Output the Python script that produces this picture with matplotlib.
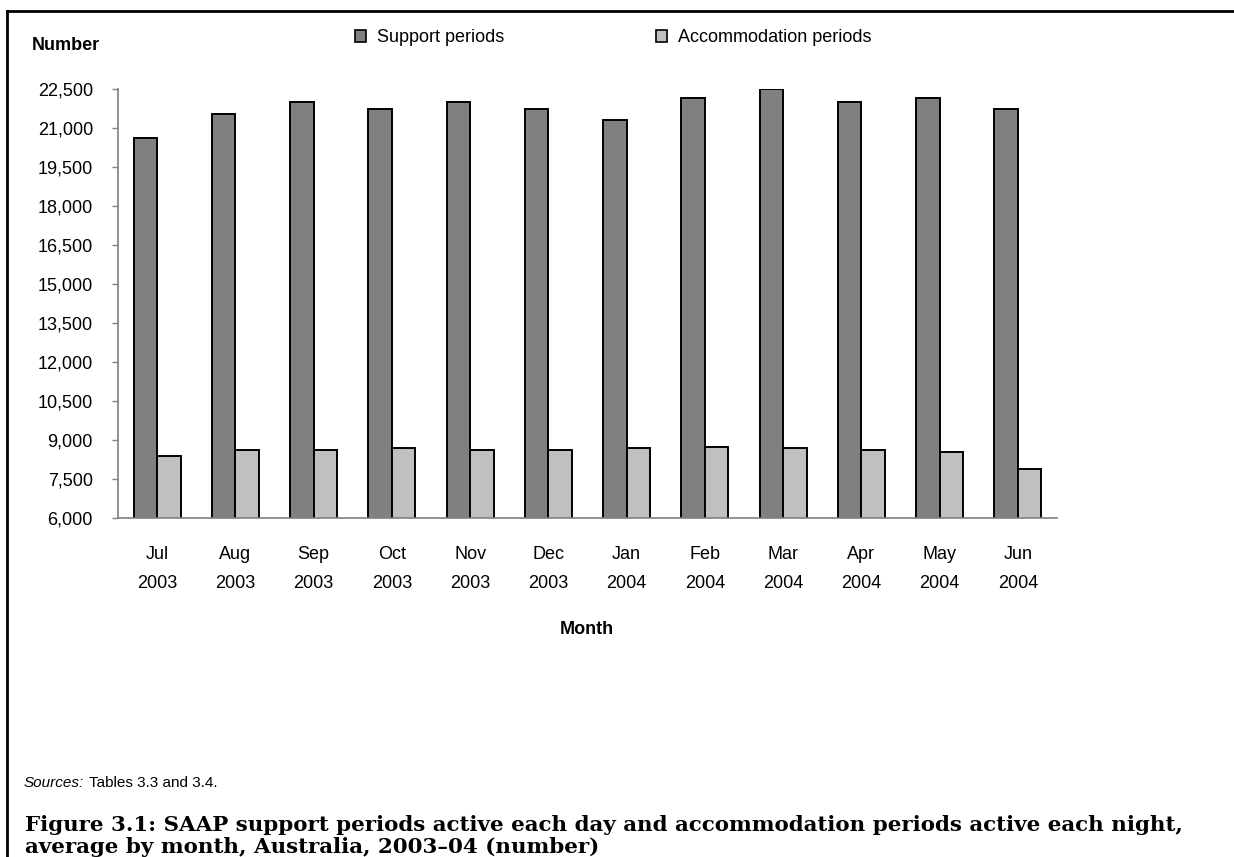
import matplotlib
matplotlib.use("Agg")
import matplotlib.pyplot as plt
from matplotlib.lines import Line2D
from matplotlib.patches import Patch
import numpy as np

# data
months = ["Jul\n2003", "Aug\n2003", "Sep\n2003", "Oct\n2003", "Nov\n2003", "Dec\n2003",
          "Jan\n2004", "Feb\n2004", "Mar\n2004", "Apr\n2004", "May\n2004", "Jun\n2004"]
support = [20600, 21520, 22000, 21750, 22000, 21750, 21300, 22150, 22500, 22000, 22150, 21750]
accommodation = [8370, 8600, 8600, 8680, 8600, 8600, 8680, 8750, 8680, 8600, 8520, 7900]

W, H = 1234, 857
plt.rcParams['font.family'] = ['Liberation Sans', 'DejaVu Sans']

fig = plt.figure(figsize=(W / 100, H / 100), dpi=100)
ax = fig.add_axes([118 / W, 1 - 518 / H, (1057 - 118) / W, (518 - 89) / H])

x = np.arange(len(months))
width = 0.3
ax.bar(x - width / 2, support, width, color='#808080', edgecolor='black',
       linewidth=1.4, label='Support periods')
ax.bar(x + width / 2, accommodation, width, color='#c0c0c0', edgecolor='black',
       linewidth=1.4, label='Accommodation periods')

ax.set_ylim(6000, 22500)
ax.set_xlim(-0.5, len(months) - 0.5)
yt = np.arange(6000, 22501, 1500)
ax.set_yticks(yt)
ax.set_yticklabels([f"{v:,}" for v in yt], fontsize=13)
ax.set_xticks(x)
ax.set_xticklabels(months, fontsize=13)
for lab in ax.get_xticklabels():
    lab.set_linespacing(1.95)
ax.tick_params(axis='x', length=0, pad=20)
ax.tick_params(axis='y', length=4, width=1, color='#808080', pad=14)

for s in ['top', 'right']:
    ax.spines[s].set_visible(False)
for s in ['left', 'bottom']:
    ax.spines[s].set_color('#808080')
    ax.spines[s].set_linewidth(1.2)

# legend across the top
handles = [Patch(facecolor='#808080', edgecolor='black', linewidth=1.2),
           Patch(facecolor='#c0c0c0', edgecolor='black', linewidth=1.2)]
fig.legend(handles, ['Support periods', 'Accommodation periods'], ncol=2,
           loc='center left', bbox_to_anchor=(355 / W, 1 - 38 / H), frameon=False,
           fontsize=13, handlelength=0.6, handleheight=0.6, handletextpad=0.6,
           columnspacing=8.45, borderaxespad=0, borderpad=0)

fig.text(32 / W, 1 - 45 / H, 'Number', fontsize=13, fontweight='bold', va='center')
fig.text(587 / W, 1 - 630 / H, 'Month', fontsize=13, fontweight='bold', ha='center', va='center')

src = fig.text(24 / W, 1 - 787 / H, 'Sources:', fontsize=11, style='italic', va='baseline')
ax.annotate('Tables 3.3 and 3.4.', xy=(1, 0), xycoords=src, xytext=(3.5, 0),
            textcoords='offset points', fontsize=11, va='bottom', ha='left',
            annotation_clip=False)

cap_font = ['DejaVu Serif']
fig.text(25 / W, 1 - 831 / H,
         'Figure 3.1: SAAP support periods active each day and accommodation periods active each night,',
         fontsize=15.4, fontweight='bold', family=cap_font, va='baseline')
fig.text(25 / W, 1 - 853 / H, 'average by month, Australia, 2003\u201304 (number)',
         fontsize=15.4, fontweight='bold', family=cap_font, va='baseline')

# page frame lines
fig.add_artist(Line2D([7 / W, 1], [1 - 11 / H, 1 - 11 / H], color='black', linewidth=2,
                      transform=fig.transFigure))
fig.add_artist(Line2D([7 / W, 7 / W], [1 - 11 / H, 0], color='black', linewidth=2,
                      transform=fig.transFigure))

fig.savefig('out.png', dpi=100)
